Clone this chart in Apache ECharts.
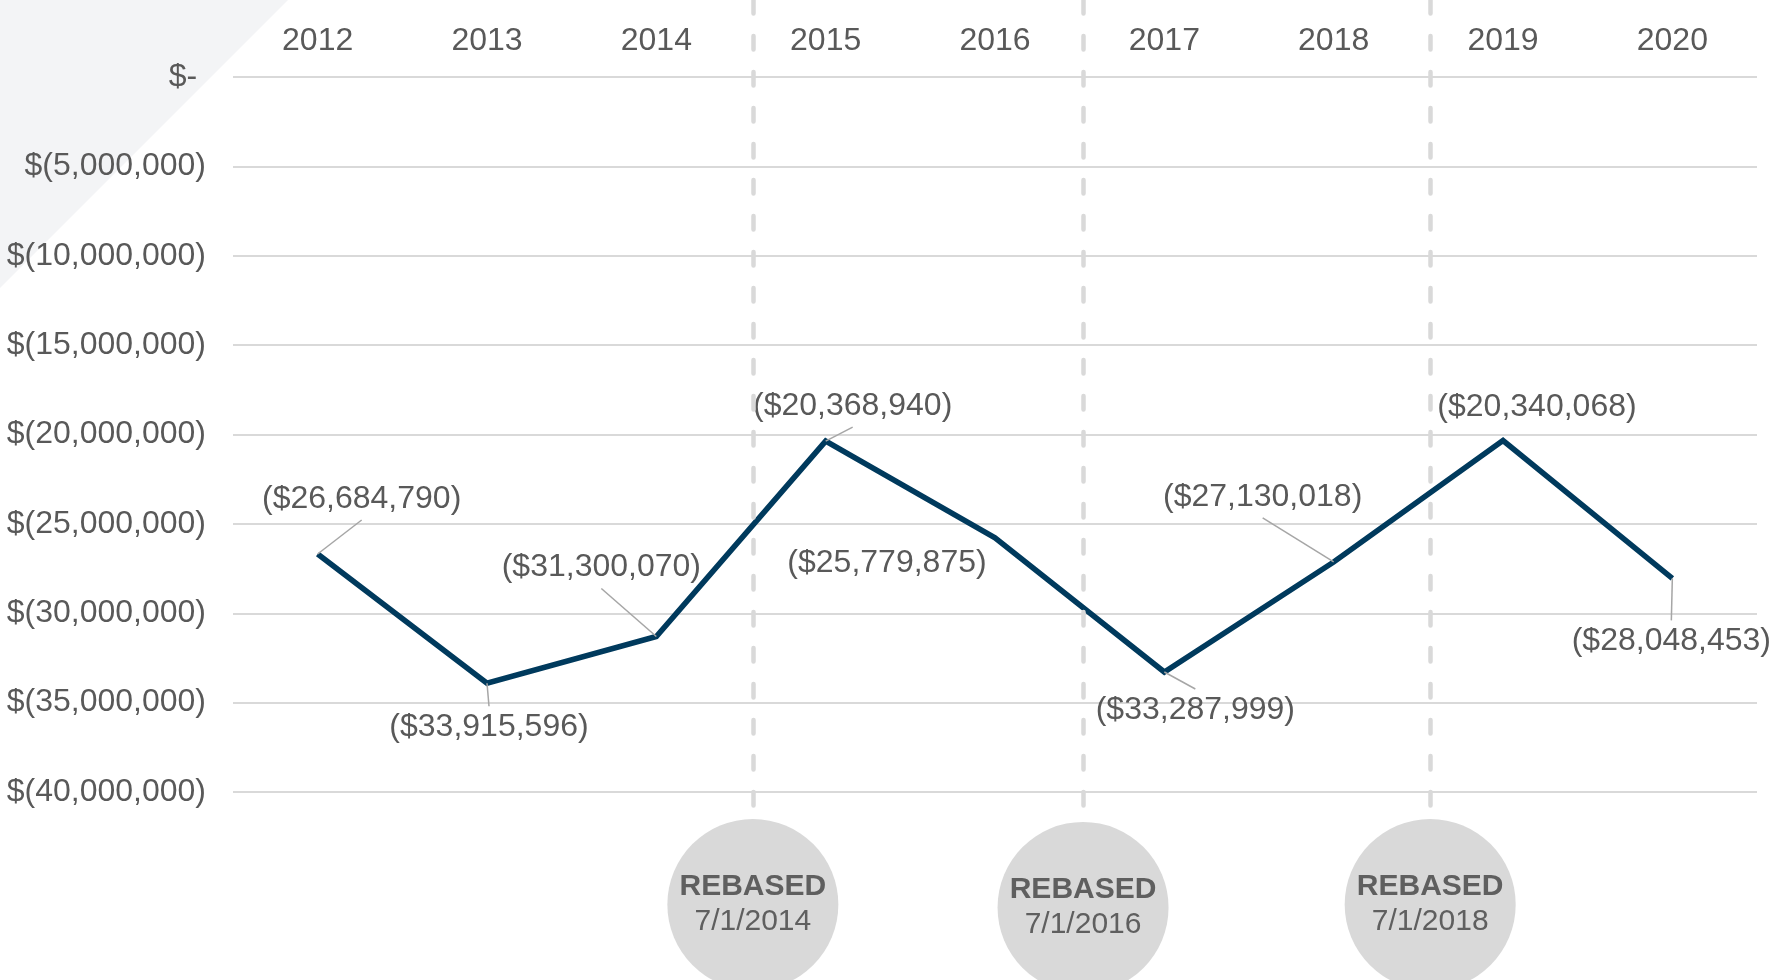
<!DOCTYPE html>
<html>
<head>
<meta charset="utf-8">
<script src="https://cdn.jsdelivr.net/npm/echarts@6/dist/echarts.min.js"></script>
<style>
html, body { margin: 0; padding: 0; background: #fff; }
#chart { width: 1773px; height: 980px; }
</style>
</head>
<body>
<div id="chart"></div>
<script>
var years = ['2012', '2013', '2014', '2015', '2016', '2017', '2018', '2019', '2020'];
var values = [-26684790, -33915596, -31300070, -20368940, -25779875, -33287999, -27130018, -20340068, -28048453];

// where each data label sits relative to its point [dx, dy, leader line]
var labelPos = [
	[44, -55, true],
	[2, 44, true],
	[-55, -69, true],
	[27, -35, true],
	[-108, 25, false],
	[31, 38, true],
	[-71, -65, true],
	[34, -33, false],
	[-1, 63, true]
];

// rebase markers: x in category units (0..9), y in percent of chart height from bottom
var rebases = [
	{ x: 3.07, y: 7.7, date: '7/1/2014' },
	{ x: 5.02, y: 7.4, date: '7/1/2016' },
	{ x: 7.07, y: 7.7, date: '7/1/2018' }
];
var circleR = 8.7; // circle radius in the same percent units

var FONT = "'Liberation Sans', Arial, sans-serif";
var TEXT = '#595959';

function commas(v) {
	return Math.abs(Math.round(v)).toString().replace(/\B(?=(\d{3})+(?!\d))/g, ',');
}

// data label + leader line, placed off the point through the axes
function renderLabel(params, api) {
	var i = params.dataIndex;
	var pt = api.coord([api.value(0), api.value(1)]);
	var o = labelPos[i];
	var cx = pt[0] + o[0];
	var cy = pt[1] + o[1];
	var children = [];

	if (o[2]) {
		children.push({
			type: 'line',
			shape: { x1: pt[0], y1: pt[1], x2: cx, y2: cy - (o[1] > 0 ? 21 : -21) },
			style: { stroke: '#a6a6a6', lineWidth: 1.5 }
		});
	}
	children.push({
		type: 'text',
		x: cx,
		y: cy,
		style: {
			text: '($' + commas(api.value(1)) + ')',
			fill: TEXT,
			fontSize: 32,
			fontFamily: FONT,
			align: 'center',
			verticalAlign: 'middle'
		}
	});

	return { type: 'group', children: children };
}

var myChart = echarts.init(document.getElementById('chart'));

var option = {
	animation: false,
	backgroundColor: '#fff',
	textStyle: { fontFamily: FONT },
	graphic: [
		{
			type: 'polygon',
			z: -10,
			shape: { points: [[0, 0], [288, 0], [0, 288]] },
			style: { fill: '#f3f4f6' }
		}
	],
	grid: [
		{ left: 233, right: 16, top: 77, bottom: 188 },
		{ left: 233, right: 16, top: 0, bottom: 0 }
	],
	xAxis: [
		{
			type: 'category',
			gridIndex: 0,
			position: 'top',
			data: years,
			boundaryGap: true,
			axisLine: { show: false },
			axisTick: { show: false },
			splitLine: { show: false },
			axisLabel: { color: TEXT, fontSize: 32, fontFamily: FONT, margin: 20 }
		},
		{
			type: 'value',
			gridIndex: 1,
			min: 0,
			max: 9,
			show: false
		}
	],
	yAxis: [
		{
			type: 'value',
			gridIndex: 0,
			min: -40000000,
			max: 0,
			interval: 5000000,
			axisLine: { show: false },
			axisTick: { show: false },
			splitLine: { lineStyle: { color: '#d9d9d9', width: 2 } },
			axisLabel: {
				color: TEXT,
				fontSize: 32,
				fontFamily: FONT,
				margin: 27,
				formatter: function (v) {
					return v === 0 ? '$- ' : '$(' + commas(v) + ')';
				}
			}
		},
		{
			type: 'value',
			gridIndex: 1,
			min: 0,
			max: 100,
			show: false
		}
	],
	series: [
		{
			name: 'rebase',
			type: 'scatter',
			xAxisIndex: 1,
			yAxisIndex: 1,
			z: 2,
			silent: true,
			symbol: 'circle',
			symbolSize: 171,
			itemStyle: { color: '#d9d9d9', opacity: 1 },
			label: {
				show: true,
				position: 'inside',
				formatter: function (p) {
					return '{b|REBASED}\n{d|' + rebases[p.dataIndex].date + '}';
				},
				rich: {
					b: { fontSize: 30, fontWeight: 'bold', color: '#5f5f5f', fontFamily: FONT, lineHeight: 35 },
					d: { fontSize: 30, color: '#5f5f5f', fontFamily: FONT, lineHeight: 35 }
				}
			},
			data: rebases.map(function (r) { return [r.x, r.y]; }),
			// dashed rebase lines run from the top edge down to each circle
			markLine: {
				silent: true,
				symbol: ['none', 'none'],
				label: { show: false },
				lineStyle: { color: '#d9d9d9', width: 4.5, type: [13.5, 22.5], cap: 'round' },
				data: rebases.map(function (r) {
					return [{ coord: [r.x, 100] }, { coord: [r.x, r.y + circleR] }];
				})
			}
		},
		{
			name: 'balance',
			type: 'line',
			xAxisIndex: 0,
			yAxisIndex: 0,
			z: 3,
			symbol: 'none',
			itemStyle: { color: '#003a5d' },
			lineStyle: { color: '#003a5d', width: 5.5, join: 'miter' },
			data: values
		},
		{
			name: 'labels',
			type: 'custom',
			xAxisIndex: 0,
			yAxisIndex: 0,
			z: 4,
			clip: false,
			silent: true,
			renderItem: renderLabel,
			encode: { x: 0, y: 1 },
			data: values.map(function (v, i) { return [i, v]; })
		}
	]
};

myChart.setOption(option);

window.addEventListener('resize', function () {
	myChart.resize();
});
</script>
</body>
</html>
